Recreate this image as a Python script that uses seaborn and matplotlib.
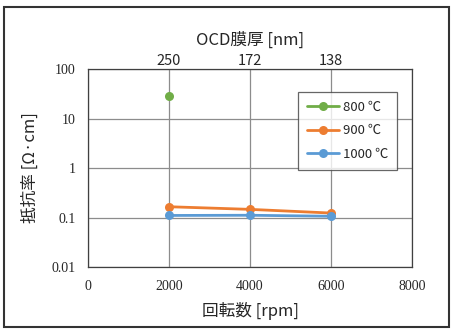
import numpy as np
import pandas as pd
import matplotlib as mpl
mpl.use("Agg")
import matplotlib.pyplot as plt
import seaborn as sns
from matplotlib.patches import Rectangle

# values
rpm = [2000, 4000, 6000]
thickness_labels = ['250', '172', '138']
rho_800 = [28.0, np.nan, np.nan]
rho_900 = [0.165, 0.146, 0.123]
rho_1000 = [0.110, 0.111, 0.106]
series_names = ['800 ℃', '900 ℃', '1000 ℃']
colors = ['#70AD47', '#ED7D31', '#5B9BD5']

df = pd.DataFrame({
    'rpm': rpm * 3,
    'rho': rho_800 + rho_900 + rho_1000,
    'temp': [n for n in series_names for _ in rpm],
})

sns.set_style("white")
plt.rcParams['font.family'] = ['Noto Sans CJK JP', 'DejaVu Sans']

fig = plt.figure(figsize=(4.52, 3.30), dpi=100)
ax = fig.add_axes([0.1947, 0.1909, 0.7168, 0.6000])

for name, col in zip(series_names, colors):
    sub = df[df['temp'] == name].dropna()
    sns.lineplot(data=sub, x='rpm', y='rho', ax=ax, color=col, marker='o',
                 markersize=6.5, markeredgewidth=0, linewidth=2, label=name)

ax.set_yscale('log')
ax.set_ylim(0.01, 100)
ax.set_xlim(0, 8000)
ax.set_xticks([0, 2000, 4000, 6000, 8000])
ax.set_yticks([0.01, 0.1, 1, 10, 100])
ax.set_yticklabels(['0.01', '0.1', '1', '10', '100'])
ax.minorticks_off()
ax.grid(True, color='#8c8c8c', linewidth=0.9)
ax.tick_params(length=0, pad=9, labelsize=10)
for lab in ax.get_xticklabels() + ax.get_yticklabels():
    lab.set_family('Liberation Serif')
for s in ax.spines.values():
    s.set_color('#404040')
    s.set_linewidth(0.9)

ax.set_xlabel('回転数 [rpm]', fontsize=12, labelpad=7)
ax.set_ylabel('抵抗率 [Ω·cm]', fontsize=12, labelpad=9)

top = ax.twiny()
top.set_xlim(ax.get_xlim())
top.set_xticks(rpm)
top.set_xticklabels(thickness_labels, fontsize=10.5)
top.tick_params(length=0, pad=1)
top.set_xlabel('OCD膜厚 [nm]', fontsize=12, labelpad=6)
for s in top.spines.values():
    s.set_visible(False)

leg = ax.legend(loc='upper right', bbox_to_anchor=(0.955, 0.886), fontsize=9.5,
                frameon=True, fancybox=False, edgecolor='#404040',
                handlelength=2.4, labelspacing=0.8, borderpad=0.7,
                handletextpad=0.3, borderaxespad=0)
leg.get_frame().set_linewidth(0.9)

# outer chart border
fig.patches.append(Rectangle((4 / 452, 3 / 330), 445 / 452, 320 / 330,
                             transform=fig.transFigure, fill=False,
                             edgecolor='#333333', linewidth=1.5))

fig.savefig('out.png', dpi=100)
